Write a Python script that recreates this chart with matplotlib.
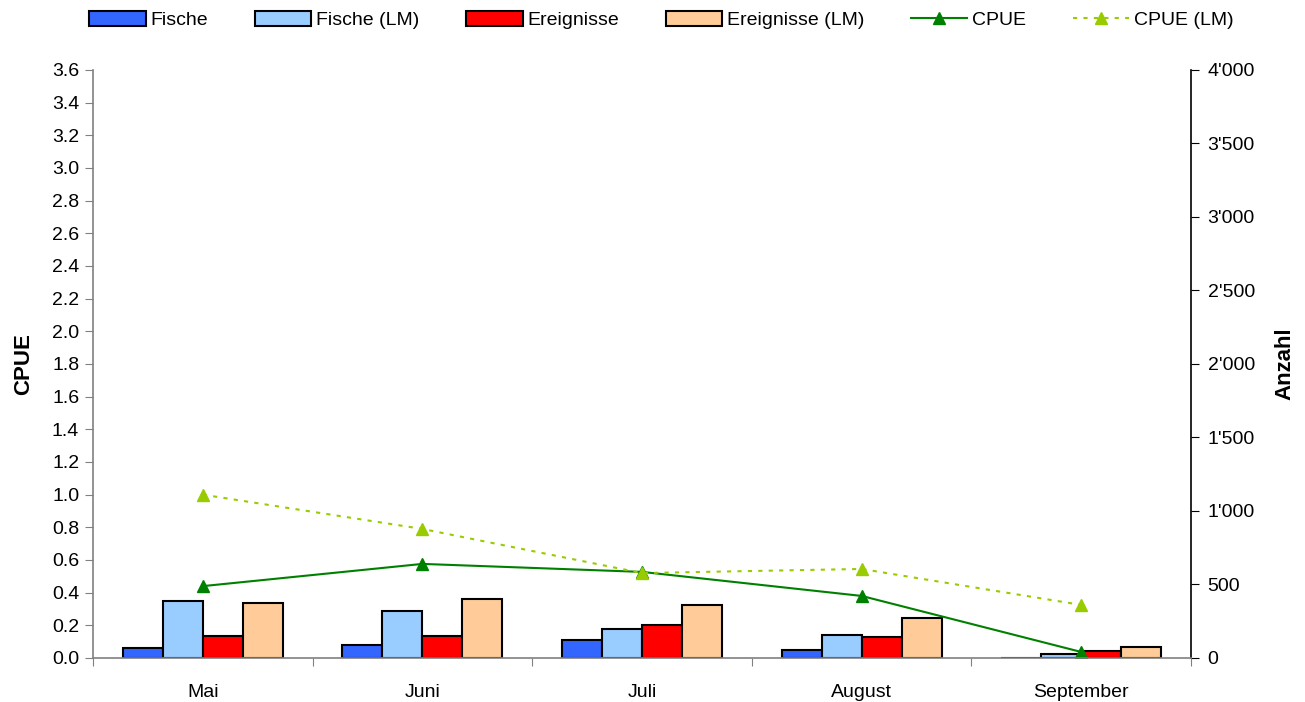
import numpy as np
import matplotlib.pyplot as plt
from matplotlib.ticker import FuncFormatter, FixedLocator

plt.rcParams['font.family'] = ['Liberation Sans', 'DejaVu Sans']

months = ['Mai', 'Juni', 'Juli', 'August', 'September']
fische = [65, 86, 120, 55, 3]
fische_lm = [385, 320, 195, 155, 28]
ereignisse = [150, 148, 225, 142, 50]
ereignisse_lm = [372, 402, 362, 270, 78]
cpue = [0.44, 0.576, 0.527, 0.38, 0.037]
cpue_lm = [1.0, 0.79, 0.52, 0.545, 0.325]

x = np.arange(len(months))
w = 0.182

fig = plt.figure(figsize=(13.05, 7.02), dpi=100)
ax1 = fig.add_axes([0.0713, 0.0627, 0.9126 - 0.0713, 0.9003 - 0.0627])
ax2 = ax1.twinx()

bars = [(fische, '#3366FF', 'Fische'),
        (fische_lm, '#99CCFF', 'Fische (LM)'),
        (ereignisse, '#FF0000', 'Ereignisse'),
        (ereignisse_lm, '#FFCC99', 'Ereignisse (LM)')]
handles = []
for i, (vals, col, lab) in enumerate(bars):
    b = ax2.bar(x + (i - 1.5) * w, vals, w, color=col, edgecolor='black',
                linewidth=1.5, label=lab)
    handles.append(b)

l1, = ax1.plot(x, cpue, color='#008000', lw=1.5, marker='^', ms=9, label='CPUE')
l2, = ax1.plot(x, cpue_lm, color='#99CC00', lw=1.5, ls=(0, (2, 3)), marker='^',
               ms=9, label='CPUE (LM)')
handles += [l1, l2]

ax1.set_zorder(ax2.get_zorder() + 1)
ax1.patch.set_visible(False)

ax1.set_xlim(-0.5, len(months) - 0.5)
ax1.set_ylim(0, 3.6)
ax2.set_ylim(0, 4000)
ax1.set_yticks(np.arange(0, 3.61, 0.2))
ax1.yaxis.set_major_formatter(FuncFormatter(lambda v, p: f'{v:.1f}'))
ax2.set_yticks(np.arange(0, 4001, 500))
ax2.yaxis.set_major_formatter(FuncFormatter(lambda v, p: f'{int(v):,}'.replace(',', "'")))

ax1.xaxis.set_major_locator(FixedLocator(np.arange(-0.5, len(months), 1)))
ax1.xaxis.set_minor_locator(FixedLocator(x))
ax1.set_xticklabels([])
ax1.set_xticklabels(months, minor=True)
ax1.tick_params(axis='x', which='major', length=6, color='#808080', direction='out')
ax1.tick_params(axis='x', which='minor', length=0, pad=19, labelsize=14)
ax1.tick_params(axis='y', length=6, color='#808080', labelsize=14, pad=4)
ax2.tick_params(axis='y', length=6, color='black', labelsize=14, pad=6)

for s in ['top', 'right']:
    ax1.spines[s].set_visible(False)
ax1.spines['left'].set_color('#808080')
ax1.spines['bottom'].set_color('#808080')
ax1.spines['left'].set_linewidth(1.2)
ax1.spines['bottom'].set_linewidth(1.2)
for s in ['top', 'left', 'bottom']:
    ax2.spines[s].set_visible(False)
ax2.spines['right'].set_linewidth(1.2)

ax1.set_ylabel('CPUE', fontsize=16, fontweight='bold', labelpad=13)
ax2.set_ylabel('Anzahl', fontsize=16, fontweight='bold', labelpad=14)

fig.legend(handles=handles, labels=[h.get_label() for h in handles],
           loc='center', bbox_to_anchor=(0.507, 0.971), ncol=6,
           frameon=False, fontsize=14, handlelength=2.9, handleheight=0.75,
           handletextpad=0.25, columnspacing=2.4)

fig.savefig('out.png', dpi=100)
